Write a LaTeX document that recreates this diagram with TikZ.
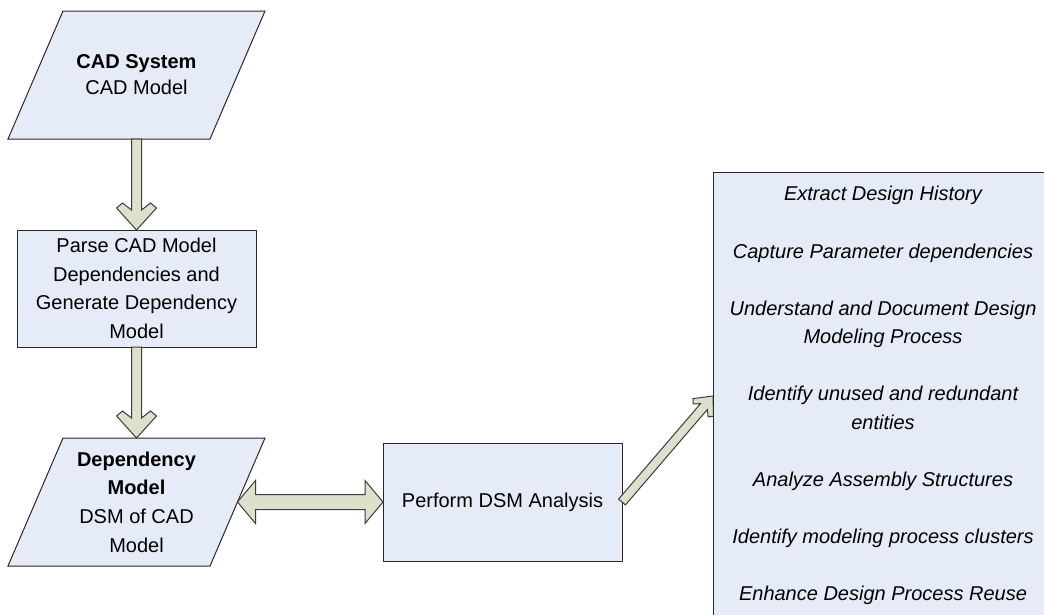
\documentclass[tikz,border=0pt]{standalone}
\usepackage{fontspec}
\setmainfont{Liberation Sans}
\usetikzlibrary{calc,backgrounds}
\definecolor{boxfill}{RGB}{230,236,247}
\definecolor{arrowfill}{RGB}{221,224,203}
\definecolor{edgecol}{RGB}{40,40,40}
\definecolor{arrowedge}{RGB}{60,60,60}

% block arrow with chevron head: tail, tip, shaft half, shaft-end back, inner-wing back, inner-wing out, outer-wing back, outer-wing out
\newcommand\chevarrow[8]{%
  \path[blockarrow] let \p1=($(#2)-(#1)$), \n1={atan2(\y1,\x1)} in
    ($(#1)+(\n1+90:#3)$) --
    ($(#2)+(\n1+180:#4)+(\n1+90:#3)$) --
    ($(#2)+(\n1+180:#5)+(\n1+90:#6)$) --
    ($(#2)+(\n1+180:#7)+(\n1+90:#8)$) --
    (#2) --
    ($(#2)+(\n1+180:#7)+(\n1-90:#8)$) --
    ($(#2)+(\n1+180:#5)+(\n1-90:#6)$) --
    ($(#2)+(\n1+180:#4)+(\n1-90:#3)$) --
    ($(#1)+(\n1-90:#3)$) -- cycle;}

% double block arrow: end a, end b, shaft half, head half, head length
\newcommand\dblarrow[5]{%
  \path[blockarrow] let \p1=($(#2)-(#1)$), \n1={atan2(\y1,\x1)} in
    (#1) --
    ($(#1)+(\n1:#5)+(\n1+90:#4)$) --
    ($(#1)+(\n1:#5)+(\n1+90:#3)$) --
    ($(#2)+(\n1+180:#5)+(\n1+90:#3)$) --
    ($(#2)+(\n1+180:#5)+(\n1+90:#4)$) --
    (#2) --
    ($(#2)+(\n1+180:#5)+(\n1-90:#4)$) --
    ($(#2)+(\n1+180:#5)+(\n1-90:#3)$) --
    ($(#1)+(\n1:#5)+(\n1-90:#3)$) --
    ($(#1)+(\n1:#5)+(\n1-90:#4)$) -- cycle;}

\begin{document}
\begin{tikzpicture}[x=0.75pt,y=0.75pt,
  every node/.style={font=\fontsize{15}{21.5}\selectfont, align=center},
  procbox/.style={draw=edgecol, line width=0.75pt, fill=boxfill, inner sep=0pt, outer sep=0pt},
  paraframe/.style={inner sep=0pt, outer sep=0pt, minimum width=202*0.75pt, minimum height=128*0.75pt},
  parashape/.style={draw=edgecol, line width=0.75pt, fill=boxfill},
  blockarrow/.style={draw=arrowedge, line width=0.75pt, fill=arrowfill, line join=miter},
  usetext/.style={font=\fontsize{15}{21.4}\selectfont\itshape}
]
\useasboundingbox (0,0) rectangle (1044,-614);
\clip (0,0) rectangle (1044,-614);

% input parallelogram
\node[paraframe] (cad) at (136.5,-75) {};
\draw[parashape] ($(cad.north west)+(27.5,0)$) -- ($(cad.north east)+(27.5,0)$)
  -- ($(cad.south east)+(-27.5,0)$) -- ($(cad.south west)+(-27.5,0)$) -- cycle;
\node[font=\fontsize{15}{19.5}\selectfont] (cadtext) at (cad.center)
  {\textbf{CAD System}\\CAD Model};

% parse box
\node[procbox, minimum width=239*0.75pt, minimum height=117*0.75pt] (parse) at (136.5,-288.5)
  {Parse CAD Model\\Dependencies and\\Generate Dependency\\Model};

% dependency model parallelogram
\node[paraframe] (dep) at (136.5,-502) {};
\draw[parashape] ($(dep.north west)+(27.5,0)$) -- ($(dep.north east)+(27.5,0)$)
  -- ($(dep.south east)+(-27.5,0)$) -- ($(dep.south west)+(-27.5,0)$) -- cycle;
\node (deptext) at (dep.center)
  {\textbf{Dependency}\\\textbf{Model}\\DSM of CAD\\Model};

% DSM analysis box
\node[procbox, minimum width=239*0.75pt, minimum height=118*0.75pt] (dsm) at (502.5,-502)
  {Perform DSM Analysis};

% uses box (extends past the picture edge)
\coordinate (usesW) at (713,-396);
\chevarrow{dsm.east}{usesW}{4.5}{14}{19}{10}{15}{13.5}
\node[procbox, minimum width=340*0.75pt, minimum height=447*0.75pt, usetext] (uses) at (883,-395.5)
  {Extract Design History\\[21.4pt]
   Capture Parameter dependencies\\[21.4pt]
   Understand and Document Design\\Modeling Process\\[21.4pt]
   Identify unused and redundant\\entities\\[21.4pt]
   Analyze Assembly Structures\\[21.4pt]
   Identify modeling process clusters\\[21.4pt]
   Enhance Design Process Reuse};

% connectors
\chevarrow{cad.south}{parse.north}{5}{20}{27}{14}{22}{20}
\chevarrow{parse.south}{dep.north}{5}{20}{27}{14}{22}{20}
\dblarrow{dep.east}{dsm.west}{7.5}{21.5}{18}
\end{tikzpicture}
\end{document}
